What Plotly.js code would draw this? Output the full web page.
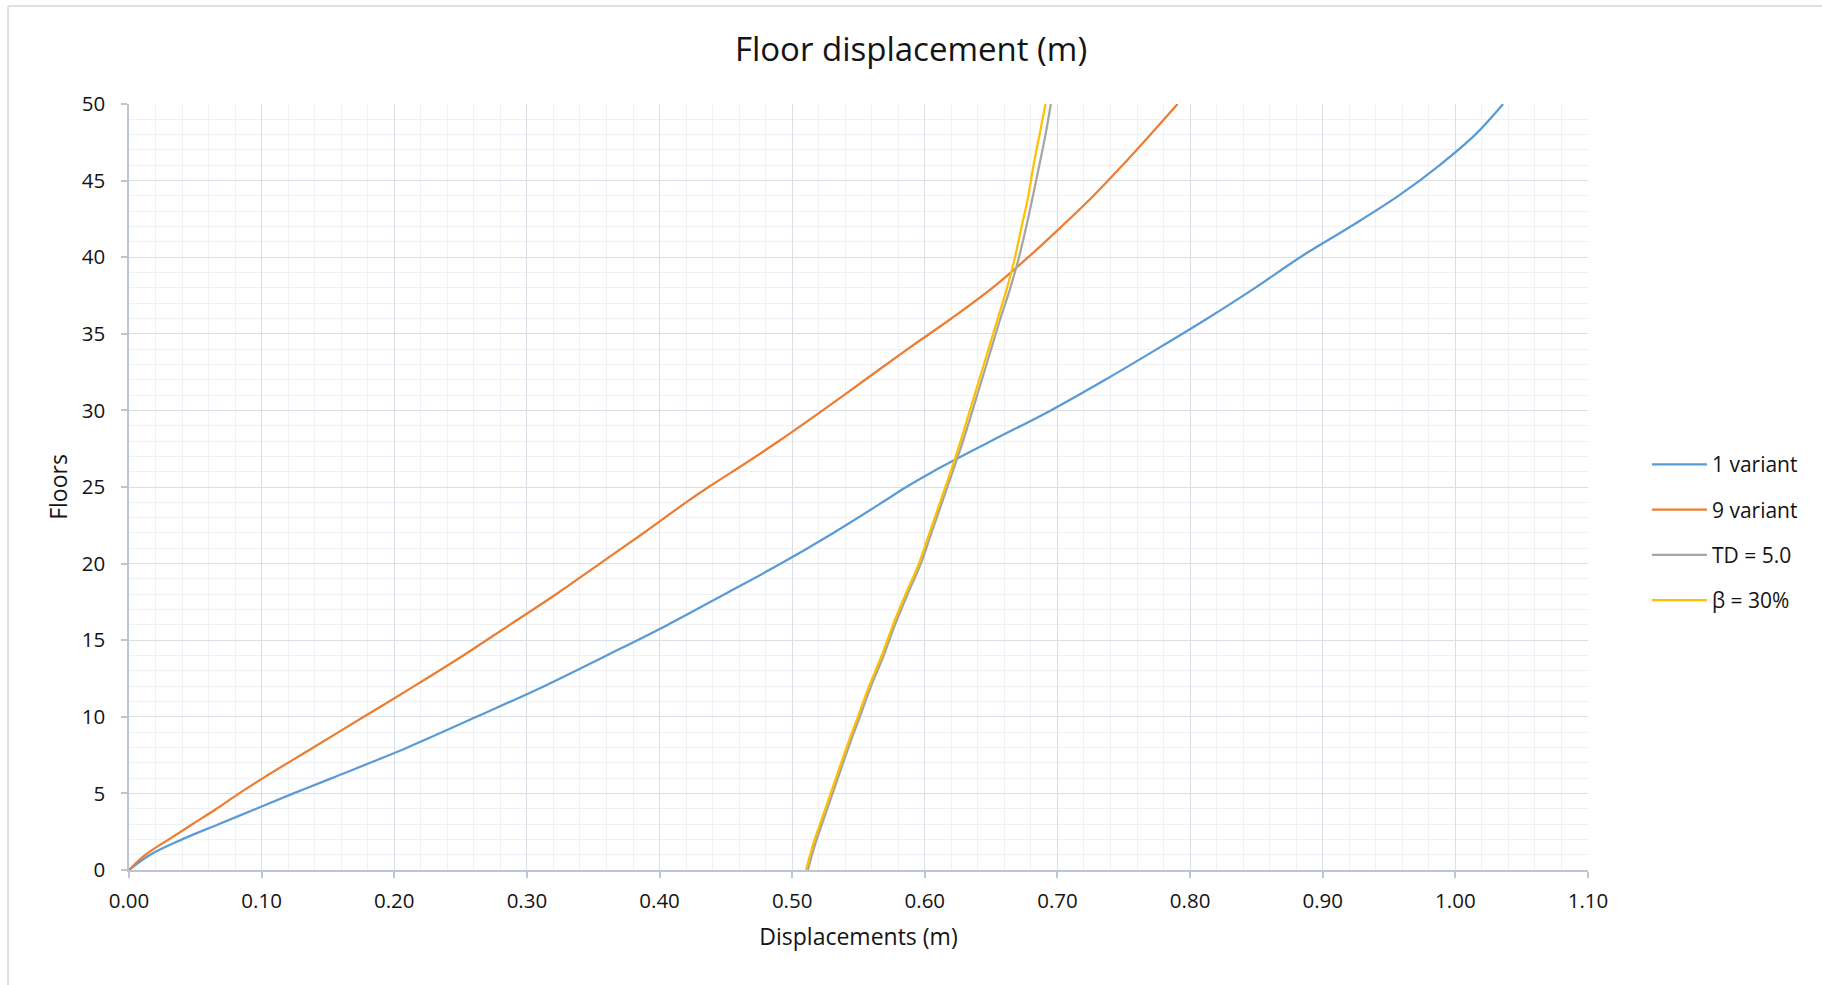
<!DOCTYPE html>
<html>
<head>
<meta charset="utf-8">
<script src="https://cdn.plot.ly/plotly-3.0.1.min.js"></script>
<style>
  html, body { margin: 0; padding: 0; background: #ffffff; }
  #chart { width: 1822px; height: 985px; }
</style>
</head>
<body>
<div id="chart"></div>
<script>
// Floors (y values)
const floors = [0,1,2,3,4,5,6,8,10,12,14,16,18,20,22,24,25,26,28,30,32,34,36,38,40,42,44,46,48,50];

// Displacements (m)
const variant1 = [0,0.016,0.040,0.068,0.096,0.124,0.153,0.210,0.262,0.313,0.360,0.406,0.449,0.4915,0.531,0.568,0.586,0.606,0.650,0.695,0.736,0.775,0.813,0.849,0.883,0.921,0.957,0.988,1.015,1.036];
const variant9 = [0,0.0125,0.030,0.048,0.066,0.083,0.101,0.139,0.177,0.215,0.252,0.287,0.322,0.355,0.388,0.420,0.437,0.455,0.490,0.523,0.555,0.587,0.620,0.651,0.678,0.703,0.727,0.749,0.770,0.7906];
const td50 = [0.5118,0.515,0.5185,0.5225,0.5265,0.5305,0.5345,0.5425,0.551,0.5595,0.569,0.5775,0.587,0.597,0.605,0.613,0.617,0.621,0.6288,0.636,0.643,0.650,0.657,0.6645,0.671,0.6765,0.6815,0.6863,0.691,0.695];
const beta30 = [0.5105,0.5135,0.517,0.521,0.525,0.529,0.533,0.541,0.5495,0.558,0.5675,0.576,0.5855,0.5955,0.6035,0.6115,0.6155,0.6195,0.627,0.634,0.641,0.648,0.655,0.662,0.668,0.673,0.678,0.682,0.6865,0.691];

const seriesNames = ["1 variant", "9 variant", "TD = 5.0", "\u03B2 = 30%"];
const seriesValues = [variant1, variant9, td50, beta30];
const seriesColors = ["#5B9BD5", "#ED7D31", "#A5A5A5", "#FFC000"];

const FONT = "'Open Sans', 'Noto Sans', sans-serif";
const TEXT = "#141414";

const traces = seriesValues.map((vals, i) => ({
  type: "scatter",
  mode: "lines",
  x: vals,
  y: floors,
  name: seriesNames[i],
  legendgroup: "g" + i,
  line: { color: seriesColors[i], width: 2.25, shape: "spline", smoothing: 1 },
  hoverinfo: "skip"
}));

const axisCommon = {
  showline: true,
  linecolor: "#bcc5d4",
  linewidth: 1.5,
  ticks: "outside",
  ticklen: 6,
  tickwidth: 1.5,
  tickcolor: "#bcc5d4",
  showgrid: true,
  gridcolor: "#d9dee7",
  gridwidth: 1.3,
  zeroline: false,
  automargin: false,
  tickfont: { family: FONT, size: 20.5, color: TEXT }
};

const layout = {
  width: 1822,
  height: 985,
  paper_bgcolor: "#ffffff",
  plot_bgcolor: "#ffffff",
  font: { family: FONT, color: TEXT },
  margin: { l: 129, r: 234, t: 104, b: 115, pad: 0 },
  title: {
    text: "Floor displacement (m)",
    font: { family: FONT, size: 33, color: TEXT },
    x: 0.5, xref: "container", xanchor: "center",
    y: 1 - 49 / 985, yref: "container", yanchor: "middle"
  },
  xaxis: Object.assign({}, axisCommon, {
    range: [0, 1.1],
    dtick: 0.1,
    tick0: 0,
    tickformat: ".2f",
    ticklabelstandoff: 6,
    minor: { dtick: 0.02, showgrid: true, gridcolor: "#eff1f5", gridwidth: 1.3, ticks: "" },
    title: { text: "Displacements (m)", font: { family: FONT, size: 23, color: TEXT }, standoff: 16 }
  }),
  yaxis: Object.assign({}, axisCommon, {
    range: [0, 50],
    dtick: 5,
    tick0: 0,
    ticklabelstandoff: 12,
    minor: { dtick: 1, showgrid: true, gridcolor: "#eff1f5", gridwidth: 1.3, ticks: "" },
    title: { text: "Floors", font: { family: FONT, size: 23, color: TEXT }, standoff: 8 }
  }),
  legend: {
    x: 1.0404, xanchor: "left",
    y: 0.556, yanchor: "top",
    font: { family: FONT, size: 21, color: TEXT },
    itemwidth: 55,
    tracegroupgap: 15,
    bgcolor: "rgba(0,0,0,0)",
    borderwidth: 0
  },
  showlegend: true,
  hovermode: false,
  shapes: [
    { type: "line", xref: "paper", yref: "paper", x0: -0.0829, x1: 1.1604, y0: 1.128, y1: 1.128,
      line: { color: "#dde1e7", width: 2 } },
    { type: "line", xref: "paper", yref: "paper", x0: -0.0829, x1: -0.0829, y0: 1.128, y1: -0.2,
      line: { color: "#dde1e7", width: 2 } }
  ]
};

Plotly.newPlot("chart", traces, layout, { displayModeBar: false, responsive: false });
</script>
</body>
</html>
